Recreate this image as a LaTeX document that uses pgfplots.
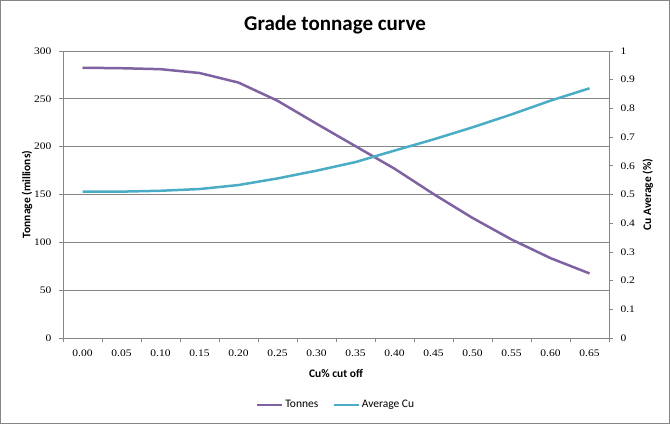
\documentclass[border=0pt]{standalone}
\usepackage{fontspec}
\setmainfont{Carlito}
\newfontfamily\tickfont[FakeStretch=1.15]{Liberation Serif}
\usepackage{pgfplots}
\pgfplotsset{compat=1.18}
\definecolor{tonpurple}{HTML}{7F62A1}
\definecolor{cuteal}{HTML}{4BACC6}
\definecolor{axgray}{HTML}{868686}
\begin{document}
\begin{tikzpicture}[x=1pt,y=1pt]
\path[use as bounding box] (0,0) rectangle (670,424);
\draw[axgray,line width=1pt] (0.5,0.5) rectangle (669.5,423.5);
\node[font=\bfseries\fontsize{21}{24}\selectfont,anchor=base] at (335,393) {Grade tonnage curve};
\begin{axis}[
  at={(63pt,86pt)}, anchor=south west,
  scale only axis, width=546pt, height=287pt,
  xmin=-0.5, xmax=13.5, ymin=0, ymax=300,
  axis x line*=bottom, axis y line*=left,
  axis line style={axgray,line width=0.8pt,-},
  xtick={0,...,13},
  xticklabels={0.00,0.05,0.10,0.15,0.20,0.25,0.30,0.35,0.40,0.45,0.50,0.55,0.60,0.65},
  minor xtick={-0.5,0.5,...,13.5},
  ytick={0,50,...,300},
  tick align=outside,
  major tick length=4pt, minor tick length=4pt,
  x tick style={draw=none},
  minor x tick style={draw=axgray,line width=0.8pt},
  y tick style={axgray,line width=0.8pt},
  ymajorgrids, grid style={axgray,line width=0.8pt},
  /pgf/number format/assume math mode=true,
  ticklabel style={font=\tickfont\fontsize{10}{12}\selectfont,black},
  xticklabel style={yshift=-4pt},
  yticklabel style={xshift=-4pt},
  yticklabels={0,50,100,150,200,250,300},
  xlabel={Cu\% cut off},
  ylabel={Tonnage (millions)},
  label style={font=\bfseries\fontsize{11.5}{13}\selectfont},
  xlabel style={at={(axis description cs:0.5,-0.122)},anchor=center},
  ylabel style={at={(axis description cs:-0.066,0.5)},anchor=center},
  legend columns=2,
  legend style={at={(axis description cs:0.5,-0.233)},anchor=center,draw=none,
    font=\fontsize{11.5}{13}\selectfont,
    /tikz/every even column/.append style={column sep=12pt}},
  legend image code/.code={\draw[#1,line width=2.5pt] (0pt,0pt) -- (25pt,0pt);},
  clip=false,
]
\addplot[tonpurple,line width=2.5pt,line join=round] coordinates {
(0,282.5) (1,282) (2,281) (3,277) (4,267) (5,248) (6,224) (7,200.5)
(8,177) (9,150.5) (10,125.5) (11,103) (12,83.5) (13,67.5)};
\addlegendentry{Tonnes}
\addlegendimage{cuteal,line width=2.5pt}
\addlegendentry{Average Cu}
\end{axis}
\begin{axis}[
  at={(63pt,86pt)}, anchor=south west,
  scale only axis, width=546pt, height=287pt,
  xmin=-0.5, xmax=13.5, ymin=0, ymax=1,
  axis x line=none, axis y line*=right,
  axis line style={axgray,line width=0.8pt,-},
  ytick={0,0.1,...,1.0},
  yticklabels={0,0.1,0.2,0.3,0.4,0.5,0.6,0.7,0.8,0.9,1},
  tick align=outside, major tick length=4pt,
  y tick style={axgray,line width=0.8pt},
  /pgf/number format/assume math mode=true,
  ticklabel style={font=\tickfont\fontsize{10}{12}\selectfont,black},
  yticklabel style={xshift=4pt},
  ylabel={Cu Average (\%)},
  label style={font=\bfseries\fontsize{11.5}{13}\selectfont},
  ylabel style={at={(axis description cs:1.071,0.5)},anchor=center,rotate=0},
  clip=false,
]
\addplot[cuteal,line width=2.5pt,line join=round] coordinates {
(0,0.510) (1,0.510) (2,0.513) (3,0.519) (4,0.533) (5,0.556) (6,0.583) (7,0.613)
(8,0.653) (9,0.692) (10,0.734) (11,0.779) (12,0.827) (13,0.870)};
\end{axis}
\end{tikzpicture}
\end{document}
